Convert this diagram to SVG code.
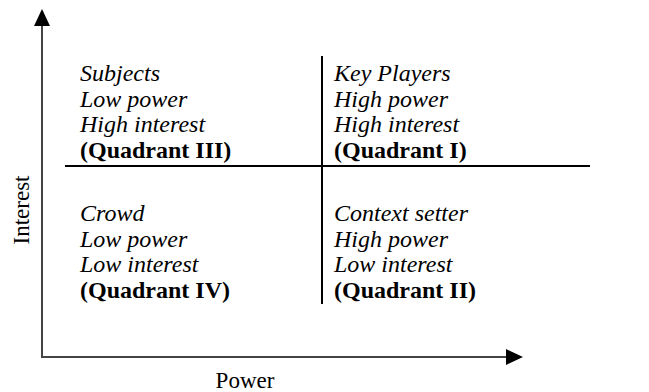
<svg xmlns="http://www.w3.org/2000/svg" width="649" height="392" viewBox="0 0 649 392">
<style>
.t{font-family:"Liberation Serif","Times New Roman",serif;font-size:24px;fill:#000}
.a{font-family:"Liberation Serif","Times New Roman",serif;font-size:23px;fill:#000}
.i{font-style:italic}
.b{font-weight:bold}
.ax{stroke:#444;stroke-width:2;fill:none}
.ln{stroke:#000;stroke-width:2;fill:none}
</style>
<rect width="649" height="392" fill="#fff"/>
<g id="axes">
<line class="ax" x1="42" y1="357" x2="42" y2="24"/>
<polygon points="42,9 34,26 50,26" fill="#000"/>
<line class="ax" x1="41" y1="357" x2="508" y2="357"/>
<polygon points="523,357 506,349 506,365" fill="#000"/>
<text class="a" x="245" y="388" text-anchor="middle">Power</text>
<text class="a" transform="translate(29,210) rotate(-90)" text-anchor="middle">Interest</text>
</g>
<g id="dividers">
<line class="ln" x1="322" y1="56" x2="322" y2="304"/>
<line class="ln" x1="65" y1="166" x2="590" y2="166"/>
</g>
<g id="q3">
<text class="t i" x="80" y="81">Subjects</text>
<text class="t i" x="80" y="107">Low power</text>
<text class="t i" x="80" y="132">High interest</text>
<text class="t b" x="80" y="158">(Quadrant III)</text>
</g>
<g id="q1">
<text class="t i" x="334" y="81">Key Players</text>
<text class="t i" x="334" y="107">High power</text>
<text class="t i" x="334" y="132">High interest</text>
<text class="t b" x="334" y="158">(Quadrant I)</text>
</g>
<g id="q4">
<text class="t i" x="80" y="221">Crowd</text>
<text class="t i" x="80" y="247">Low power</text>
<text class="t i" x="80" y="272">Low interest</text>
<text class="t b" x="80" y="298">(Quadrant IV)</text>
</g>
<g id="q2">
<text class="t i" x="334" y="221">Context setter</text>
<text class="t i" x="334" y="247">High power</text>
<text class="t i" x="334" y="272">Low interest</text>
<text class="t b" x="334" y="298">(Quadrant II)</text>
</g>
</svg>
